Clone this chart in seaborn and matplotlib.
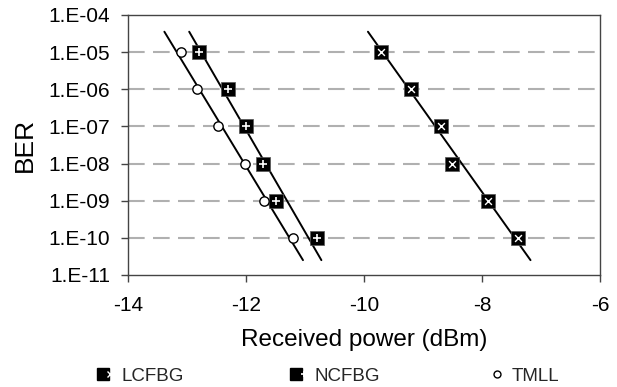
import numpy as np
import pandas as pd
import matplotlib
matplotlib.use("Agg")
import matplotlib.pyplot as plt
from matplotlib.lines import Line2D
from matplotlib.legend_handler import HandlerTuple
from matplotlib.ticker import FixedLocator, FuncFormatter
import seaborn as sns

# ---- data ----
ber = [1e-5, 1e-6, 1e-7, 1e-8, 1e-9, 1e-10]
lcfbg_power = [-9.71, -9.20, -8.69, -8.51, -7.90, -7.39]
ncfbg_power = [-12.80, -12.31, -12.00, -11.71, -11.49, -10.80]
tmll_power = [-13.10, -12.83, -12.47, -12.02, -11.69, -11.20]
series_names = ["LCFBG", "NCFBG", "TMLL"]
y_ticks = [1e-4, 1e-5, 1e-6, 1e-7, 1e-8, 1e-9, 1e-10, 1e-11]
x_ticks = [-14, -12, -10, -8, -6]
fit_log_ber_range = [-4.45, -10.6]  # extent of the drawn trend lines

sns.set_theme(style="white")
plt.rcParams["font.family"] = ["Liberation Sans", "DejaVu Sans"]

df = pd.DataFrame({
    "power": lcfbg_power + ncfbg_power + tmll_power,
    "BER": ber * 3,
    "series": [s for s in series_names for _ in ber],
})

fig = plt.figure(figsize=(6.17, 3.87), dpi=100)
ax = fig.add_axes([128 / 617, 1 - 275 / 387, (600 - 128) / 617, (275 - 15) / 387])

# trend lines (log-linear fit of each series)
lines = []
for name in series_names:
    sub = df[df.series == name]
    coef = np.polyfit(np.log10(sub.BER), sub.power, 1)
    lb = np.array(fit_log_ber_range)
    lines.append(pd.DataFrame({"power": np.polyval(coef, lb), "BER": 10 ** lb, "series": name}))
lines = pd.concat(lines)
sns.lineplot(data=lines, x="power", y="BER", units="series", estimator=None,
             color="black", lw=1.4, ax=ax, legend=False, sort=False)

# markers
sq = df[df.series != "TMLL"]
sns.scatterplot(data=sq, x="power", y="BER", marker="s", s=105, color="black",
                edgecolor="#555555", linewidth=0.5, ax=ax, legend=False, zorder=3)
lc = df[df.series == "LCFBG"]
ax.scatter(lc.power, lc.BER, marker="x", s=24, color="white", linewidths=1.0, zorder=4)
nc = df[df.series == "NCFBG"]
ax.scatter(nc.power, nc.BER, marker="+", s=36, color="white", linewidths=1.2, zorder=4)
tm = df[df.series == "TMLL"]
sns.scatterplot(data=tm, x="power", y="BER", marker="o", s=45, color="white",
                edgecolor="black", linewidth=1.0, ax=ax, legend=False, zorder=4)

ax.set_yscale("log")
ax.set_ylim(1e-11, 1e-4)
ax.set_xlim(-14, -6)
ax.yaxis.set_major_locator(FixedLocator(y_ticks))
ax.yaxis.set_minor_locator(FixedLocator([]))
ax.yaxis.set_major_formatter(FuncFormatter(lambda v, p: "1.E-%02d" % int(round(-np.log10(v)))))
ax.set_xticks(x_ticks)
ax.set_xticklabels([str(t) for t in x_ticks])

for yv in y_ticks[1:-1]:
    ax.axhline(yv, color="#b0b0b0", lw=1.5, ls=(0, (8, 4)), zorder=1)

for sp in ax.spines.values():
    sp.set_color("#444444")
    sp.set_linewidth(1.0)
ax.tick_params(axis="both", direction="out", length=5, width=1, color="#444444",
               labelsize=15, labelcolor="black")
ax.tick_params(axis="y", left=True, pad=8)
ax.tick_params(axis="x", bottom=True, pad=10)
ax.set_xlabel("Received power (dBm)", fontsize=17.5, color="black", labelpad=10)
ax.set_ylabel("BER", fontsize=19, color="black", labelpad=8)

h_lc = (Line2D([], [], marker="s", ms=8, color="black", ls="none"),
        Line2D([], [], marker="x", ms=4, color="white", mew=1.0, ls="none"))
h_nc = (Line2D([], [], marker="s", ms=8, color="black", ls="none"),
        Line2D([], [], marker="+", ms=5, color="white", mew=1.2, ls="none"))
h_tm = Line2D([], [], marker="o", ms=5, mfc="white", mec="black", mew=1.0, ls="none")
fig.legend([h_lc, h_nc, h_tm], series_names, handler_map={tuple: HandlerTuple(ndivide=None, pad=0)},
           ncol=3, loc="center", bbox_to_anchor=(329 / 617, 1 - 376 / 387), frameon=False,
           fontsize=13.5, handlelength=0.8, handletextpad=0.4, columnspacing=5.8)

fig.savefig("out.png", dpi=100)
